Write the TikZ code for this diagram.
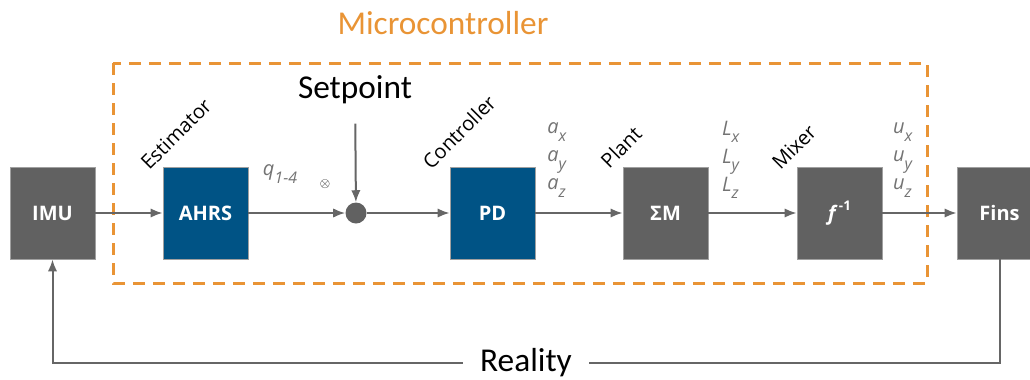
\documentclass[tikz,border=0pt]{standalone}
\usepackage{fontspec}
\setmainfont{Open Sans}
\newfontfamily\calibri{Carlito}
\usetikzlibrary{arrows.meta}
\definecolor{boxgray}{HTML}{616161}
\definecolor{boxblue}{HTML}{005385}
\definecolor{linegray}{HTML}{666666}
\definecolor{labelgray}{HTML}{737373}
\definecolor{mcorange}{HTML}{E99435}
\newcommand{\vsub}[2]{\textit{#1}\raisebox{-0.7ex}{\fontsize{12}{12}\selectfont\textit{#2}}}
\tikzstyle{block}=[rectangle, draw=boxgray!60!white, line width=0.6pt, minimum width=63.75pt, minimum height=69pt, text=white, font=\fontsize{15}{18}\selectfont\bfseries]
\tikzstyle{sig}=[-{Latex[length=9pt,width=7pt]}, linegray, line width=1.5pt]
\tikzstyle{tag}=[rotate=45, font=\fontsize{15}{17}\selectfont]
\tikzstyle{vec}=[align=left, text=labelgray, font=\fontsize{15}{21}\selectfont]
\tikzstyle{big}=[font=\calibri\fontsize{25}{30}\selectfont]

\begin{document}
\begin{tikzpicture}[x=0.75pt,y=-0.75pt]
\useasboundingbox (0,0) rectangle (1030,379);

\draw[mcorange, line width=2.25pt, dash pattern=on 9pt off 6pt] (113,63) rectangle (927,283);
\node[big, text=mcorange] (mctitle) at (443,23) {Microcontroller};

\node[block, fill=boxgray] (imu) at (52.5,213) {IMU};
\node[block, fill=boxblue] (ahrs) at (205.5,213) {AHRS};
\node[circle, fill=boxgray, minimum size=15.75pt, inner sep=0pt] (sum) at (356,213) {};
\node[block, fill=boxblue] (pd) at (492.5,213) {PD};
\node[block, fill=boxgray] (moment) at (665.5,213) {ΣM};
\node[block, fill=boxgray] (mixer) at (839.5,213) {{\itshape f}\,\raisebox{0.9ex}{\fontsize{10}{10}\selectfont -1}};
\node[block, fill=boxgray] (fins) at (999.5,213) {Fins};

\node[big] (setpoint) at (355,90) {Setpoint};
\node (cross) at (325,184) {$\otimes$};

\node[tag] (estimator) at (176,134) {Estimator};
\node[tag] (controller) at (459,132) {Controller};
\node[tag] (plant) at (621,147) {Plant};
\node[tag] (mixtag) at (794,147) {Mixer};

\node[vec] (quat) at (280,174) {\vsub{q}{1-4}};
\node[vec] (acc) at (557,160) {\vsub{a}{x}\\\vsub{a}{y}\\\vsub{a}{z}};
\node[vec] (mom) at (731,160) {\vsub{L}{x}\\\vsub{L}{y}\\\vsub{L}{z}};
\node[vec] (act) at (903,160) {\vsub{u}{x}\\\vsub{u}{y}\\\vsub{u}{z}};

\coordinate (back) at (999.5,363);

\draw[sig] (imu) -- (ahrs);
\draw[sig] (ahrs) -- (sum);
\draw[sig, shorten <=11pt] (setpoint) -- (sum);
\draw[sig] (sum) -- (pd);
\draw[sig] (pd) -- (moment);
\draw[sig] (moment) -- (mixer);
\draw[sig] (mixer) -- (fins);
\draw[sig] (fins) -- (back) -| node[pos=0.25, fill=white, text=black, inner xsep=13pt, big] (reality) {Reality} (imu);
\end{tikzpicture}
\end{document}
